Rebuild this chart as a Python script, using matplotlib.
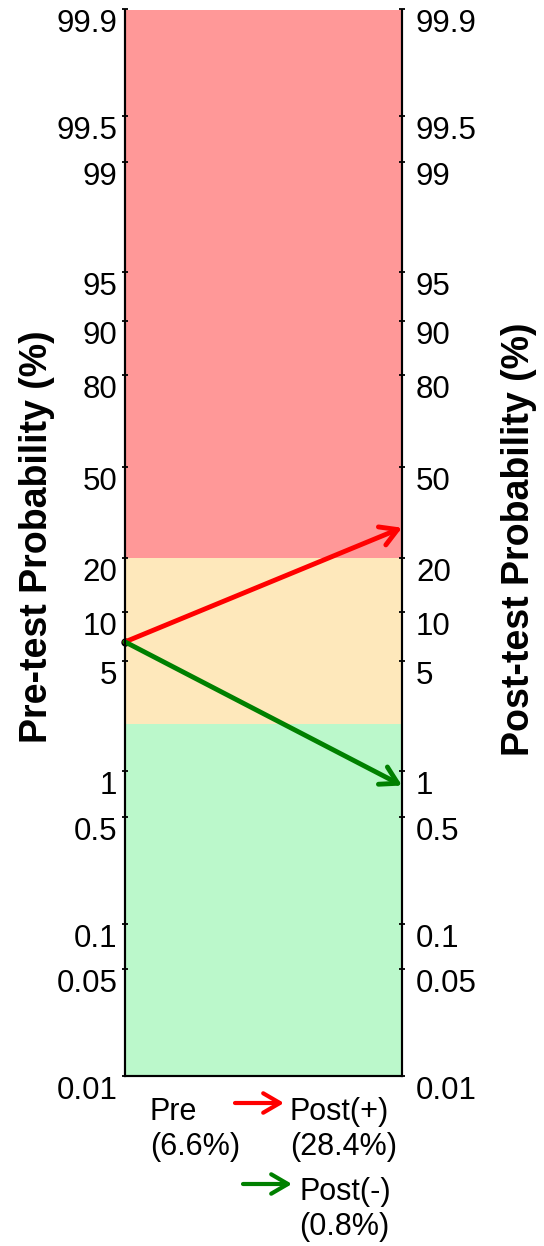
import numpy as np
import matplotlib
matplotlib.use('Agg')
import matplotlib.pyplot as plt
from matplotlib.ticker import FixedLocator, NullLocator, NullFormatter

plt.rcParams['font.family'] = ['Liberation Sans', 'DejaVu Sans']

# probabilities in percent
tick_pct = [0.01, 0.05, 0.1, 0.5, 1, 5, 10, 20, 50, 80, 90, 95, 99, 99.5, 99.9]
tick_lab = ['0.01', '0.05', '0.1', '0.5', '1', '5', '10', '20', '50', '80', '90', '95', '99', '99.5', '99.9']
band_lo = [0.01, 2, 20]
band_hi = [2, 20, 99.9]
band_col = ['#bbf8cb', '#fee8bb', '#ff9898']
pre_pct = 6.6
post_pos = 28.4
post_neg = 0.8

W, H = 544, 1246
fig = plt.figure(figsize=(W/100, H/100), dpi=100)
ax = fig.add_axes([125/W, 1-1076/H, 277/W, 1066.5/H])
ax2 = ax.twinx()

for a, side, pad in [(ax, 'left', 3.5), (ax2, 'right', 8)]:
    a.set_yscale('logit')
    a.set_ylim(0.0001, 0.999)
    a.yaxis.set_major_locator(FixedLocator([p/100 for p in tick_pct]))
    a.yaxis.set_minor_locator(NullLocator())
    a.yaxis.set_minor_formatter(NullFormatter())
    a.set_yticklabels(tick_lab)
    a.tick_params(axis='y', which='major', direction='inout', length=4, width=1.3,
                  labelsize=22.5, pad=pad)
    for t in a.yaxis.get_major_ticks():
        t.label1.set_va('top')
        t.label2.set_va('top')
    a.spines['top'].set_visible(False)
    for s in ['left', 'right', 'bottom']:
        a.spines[s].set_linewidth(1.5)

ax.set_xlim(0, 1)
ax.set_xticks([])

for lo, hi, c in zip(band_lo, band_hi, band_col):
    ax.axhspan(lo/100, hi/100, color=c, lw=0, zorder=0)

# arrows from pre-test to post-test
ax.plot(0, pre_pct/100, 'o', color='black', ms=5, clip_on=False, zorder=3)
ax.annotate('', xy=(1, post_pos/100), xytext=(0, pre_pct/100),
            arrowprops=dict(arrowstyle='->,head_length=0.6,head_width=0.35', color='red',
                            lw=3.5, shrinkA=0, shrinkB=0, mutation_scale=20),
            annotation_clip=False, zorder=4)
ax.annotate('', xy=(1, post_neg/100), xytext=(0, pre_pct/100),
            arrowprops=dict(arrowstyle='->,head_length=0.6,head_width=0.35', color='green',
                            lw=3.5, shrinkA=0, shrinkB=0, mutation_scale=20),
            annotation_clip=False, zorder=5)

fig.text(37/W, 1-537/H, 'Pre-test Probability (%)', rotation=90, ha='center', va='center',
         fontsize=27, fontweight='bold')
fig.text(519/W, 1-539/H, 'Post-test Probability (%)', rotation=90, ha='center', va='center',
         fontsize=27, fontweight='bold')

# key below the axis
fig.text(150/W, 1-1097/H, 'Pre\n(%.1f%%)' % pre_pct, ha='left', va='top', fontsize=22)
fig.text(290/W, 1-1097/H, 'Post(+)\n(%.1f%%)' % post_pos, ha='left', va='top', fontsize=22)
fig.text(299/W, 1-1177/H, 'Post(-)\n(%.1f%%)' % post_neg, ha='left', va='top', fontsize=22)
fig.add_artist(matplotlib.patches.FancyArrowPatch((235/W, 1-1103/H), (284/W, 1-1103/H),
               transform=fig.transFigure, arrowstyle='->,head_length=0.6,head_width=0.35',
               color='red', lw=3, mutation_scale=20, shrinkA=0, shrinkB=0))
fig.add_artist(matplotlib.patches.FancyArrowPatch((243/W, 1-1184/H), (292/W, 1-1184/H),
               transform=fig.transFigure, arrowstyle='->,head_length=0.6,head_width=0.35',
               color='green', lw=3, mutation_scale=20, shrinkA=0, shrinkB=0))

fig.savefig('out.png', dpi=100)
